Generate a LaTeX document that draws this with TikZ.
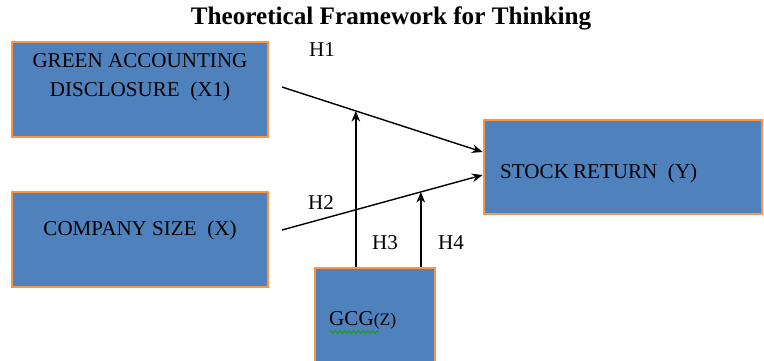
\documentclass[tikz,border=0pt]{standalone}
\usepackage{fontspec}
\setmainfont{Liberation Serif}
\usepackage{tikz}
\usetikzlibrary{arrows.meta,positioning,calc,decorations.pathmorphing}
\definecolor{boxblue}{HTML}{4F81BD}
\definecolor{boxorange}{HTML}{F79646}
\definecolor{spellgreen}{HTML}{1E9E1E}

\begin{document}
\begin{tikzpicture}[
    x=0.03cm, y=-0.03cm,
    font=\fontsize{18}{25}\selectfont,
    varbox/.style={draw=boxorange, fill=boxblue, line width=2.4pt, minimum width=7.68cm, minimum height=2.85cm, inner sep=0pt},
    boxtext/.style={align=center, inner sep=0pt},
    hlabel/.style={inner sep=0pt},
    arr/.style={-{Stealth[length=3.2mm, width=2.6mm]}, line width=1.2pt}
]
\clip (0,0) rectangle (764,360);

\node[font=\fontsize{21.5}{26}\selectfont\bfseries] (title) at (391,18) {Theoretical Framework for Thinking};

\node[varbox] (gad) at (140,89.5) {};
\node[boxtext, below=0.38cm of gad.north] (gadtxt) {GREEN ACCOUNTING\\DISCLOSURE\ \ (X1)};

\node[varbox] (size) at (140,239.5) {};
\node[boxtext] (sizetxt) at (140,230) {COMPANY SIZE\ \ (X)};

\node[varbox, minimum width=8.34cm, minimum height=2.82cm] (ret) at (623,167) {};
\node[boxtext, anchor=west] (rettxt) at (500,173) {STOCK\hspace{-1pt} RETURN\ \ (Y)};

\node[varbox, minimum width=3.6cm, minimum height=3.36cm] (gcg) at (375,324) {};
\node[boxtext, anchor=west] (gcgtxt) at (329,320) {GCG{\fontsize{15}{18}\selectfont(Z)}};
\draw[spellgreen, line width=0.9pt, decorate, decoration={snake, amplitude=1.1pt, segment length=4pt}]
    ([yshift=-2.5pt]gcgtxt.south west) -- ++(1.5cm,0);

% paths into stock return
\coordinate (h1s) at (282,87);
\coordinate (h2s) at (282,230);
\coordinate (h1e) at ($(ret.west)+(0,-15)$);
\coordinate (h2e) at ($(ret.west)+(0,8)$);
\draw[arr] (h1s) -- (h1e);
\draw[arr] (h2s) -- (h2e);

% moderating paths
\coordinate (m1) at ($(h1s)!0.368!(h1e)$);
\coordinate (m2) at ($(h2s)!0.692!(h2e)$);
\draw[arr] (gcg.north -| m1) -- (m1);
\draw[arr] (gcg.north -| m2) -- (m2);

\node[hlabel] (h1) at (322,50) {H1};
\node[hlabel] (h2) at (321,203) {H2};
\node[hlabel] (h3) at (385,243) {H3};
\node[hlabel] (h4) at (451,243) {H4};
\end{tikzpicture}
\end{document}
